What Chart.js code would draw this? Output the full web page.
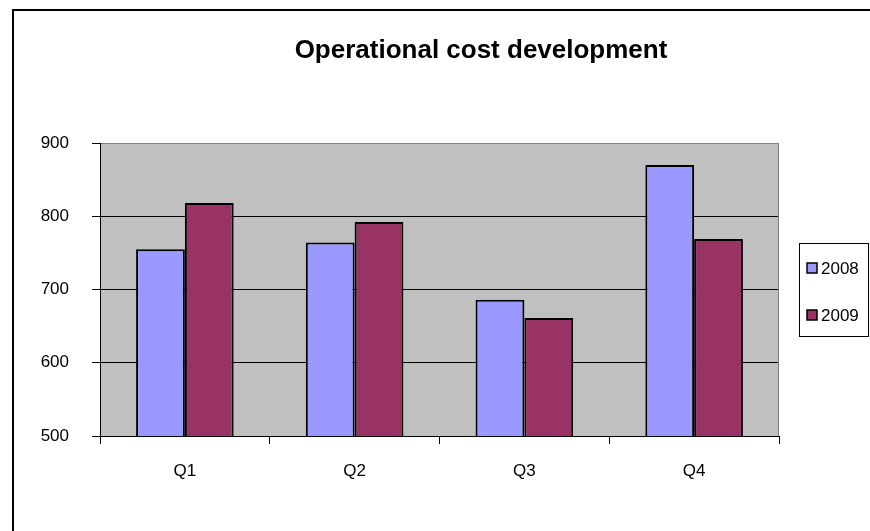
<!DOCTYPE html>
<html>
<head>
<meta charset="utf-8">
<script src="https://cdn.jsdelivr.net/npm/chart.js@4.4.0/dist/chart.umd.min.js"></script>
<style>
  html, body { margin: 0; padding: 0; background: #fff; }
  canvas { display: block; }
</style>
</head>
<body>
<canvas id="chart" width="870" height="531"></canvas>
<script>
// Data
const quarters = ['Q1', 'Q2', 'Q3', 'Q4'];
const cost2008 = [755, 764, 686, 870];
const cost2009 = [818, 792, 661, 769];
const yTicks = [500, 600, 700, 800, 900];
const seriesNames = ['2008', '2009'];

const FONT = '"Liberation Sans", Arial, sans-serif';

// Excel-ish extras: plot background, frame, title, boxed legend
const excelLook = {
  id: 'excelLook',
  beforeDraw(chart) {
    const ctx = chart.ctx, a = chart.chartArea;
    ctx.save();
    ctx.fillStyle = '#c0c0c0';
    ctx.fillRect(a.left, a.top, a.right - a.left, a.bottom - a.top);
    ctx.restore();
  },
  afterDraw(chart) {
    const ctx = chart.ctx, a = chart.chartArea;
    ctx.save();

    // outer frame (only top and left are visible)
    ctx.fillStyle = '#000';
    ctx.fillRect(12, 9, 858, 2);
    ctx.fillRect(12, 9, 2, 522);

    // grey right edge of plot area
    ctx.strokeStyle = '#808080';
    ctx.lineWidth = 1;
    ctx.beginPath();
    ctx.moveTo(a.right - 0.5, a.top);
    ctx.lineTo(a.right - 0.5, a.bottom);
    ctx.stroke();

    // title
    ctx.fillStyle = '#000';
    ctx.font = 'bold 26px ' + FONT;
    ctx.textAlign = 'center';
    ctx.textBaseline = 'middle';
    ctx.fillText('Operational cost development', 481, 51);

    // legend
    ctx.strokeStyle = '#000';
    ctx.lineWidth = 1;
    ctx.strokeRect(799.5, 243.5, 69, 93);
    ctx.font = '17px ' + FONT;
    ctx.textAlign = 'left';
    chart.data.datasets.forEach((ds, i) => {
      const y = 268 + i * 47;
      ctx.fillStyle = ds.backgroundColor;
      ctx.fillRect(807, y - 5, 10, 10);
      ctx.lineWidth = 1.5;
      ctx.strokeRect(807, y - 5, 10, 10);
      ctx.fillStyle = '#000';
      ctx.fillText(ds.label, 821, y + 1);
    });
    ctx.restore();
  }
};

new Chart(document.getElementById('chart'), {
  type: 'bar',
  data: {
    labels: quarters,
    datasets: [{
      label: seriesNames[0],
      data: cost2008,
      backgroundColor: '#9999ff',
      borderColor: '#000',
      borderWidth: 2
    }, {
      label: seriesNames[1],
      data: cost2009,
      backgroundColor: '#993366',
      borderColor: '#000',
      borderWidth: 2
    }]
  },
  options: {
    responsive: false,
    animation: false,
    events: [],
    categoryPercentage: 0.575,
    barPercentage: 1.0,
    layout: { padding: { top: 143, right: 91, bottom: 0, left: 0 } },
    plugins: {
      legend: { display: false },
      title: { display: false },
      tooltip: { enabled: false }
    },
    scales: {
      x: {
        afterFit: s => { s.height = 95; },
        grid: {
          offset: true,
          drawOnChartArea: false,
          color: '#000',
          tickLength: 8
        },
        border: { color: '#000', width: 1 },
        ticks: {
          color: '#000',
          padding: 17,
          font: { family: FONT, size: 17 }
        }
      },
      y: {
        min: yTicks[0],
        max: yTicks[yTicks.length - 1],
        afterFit: s => { s.width = 100; },
        grid: {
          color: ctx => (ctx.tick && ctx.tick.value === yTicks[yTicks.length - 1]) ? '#808080' : '#000',
          tickColor: '#000',
          tickLength: 8
        },
        border: { color: '#000', width: 1 },
        ticks: {
          stepSize: yTicks[1] - yTicks[0],
          color: '#000',
          padding: 23,
          font: { family: FONT, size: 17 }
        }
      }
    }
  },
  plugins: [excelLook]
});
</script>
</body>
</html>
